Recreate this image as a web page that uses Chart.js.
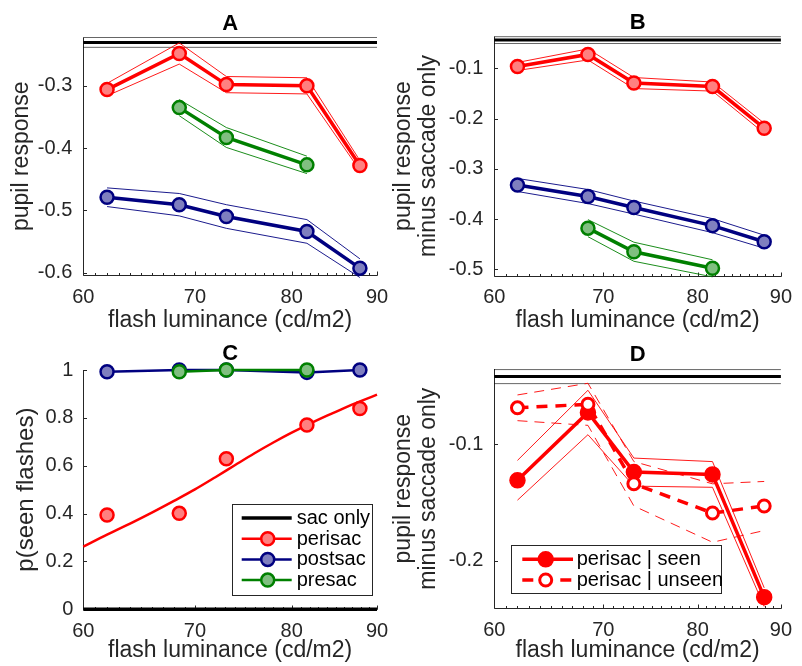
<!DOCTYPE html>
<html>
<head>
<meta charset="utf-8">
<script src="https://cdn.jsdelivr.net/npm/chart.js@4.4.1/dist/chart.umd.min.js"></script>
<style>
  html, body { margin: 0; padding: 0; background: #fff; }
  body { width: 802px; height: 666px; position: relative; overflow: hidden; }
  canvas { position: absolute; }
</style>
</head>
<body>
<canvas id="cA" width="401" height="333" style="left:0;top:0"></canvas>
<canvas id="cB" width="412" height="333" style="left:390px;top:0"></canvas>
<canvas id="cC" width="401" height="333" style="left:0;top:333px"></canvas>
<canvas id="cD" width="412" height="333" style="left:390px;top:333px"></canvas>
<script>
// ---------------- DATA ----------------
const lum = [62.0, 68.5, 73.1, 81.7, 87.9];          // flash luminance (cd/m2)
const lumPre = [68.5, 73.1, 81.7];
const xRange = [60, 90];
const xTicks = [60, 70, 80, 90];
const xMinorTicks = [61, 62, 63, 64, 65, 66, 67, 68, 69, 71, 72, 73, 74, 75, 76, 77, 78, 79, 81, 82, 83, 84, 85, 86, 87, 88, 89];
const xLabel = 'flash luminance (cd/m2)';

// Panel A : pupil response
const yTicksA = [-0.6, -0.5, -0.4, -0.3];
const sacOnlyA = -0.2302, sacOnlyA_se = 0.0079;
const periA = [-0.306, -0.248, -0.298, -0.300, -0.428];
const periA_se = [0.010, 0.017, 0.013, 0.013, 0.008];
const postA = [-0.479, -0.491, -0.510, -0.534, -0.593];
const postA_se = [0.015, 0.018, 0.019, 0.019, 0.015];
const preA = [-0.335, -0.383, -0.427];
const preA_se = [0.013, 0.016, 0.014];

// Panel B : pupil response minus saccade only
const yTicksB = [-0.5, -0.4, -0.3, -0.2, -0.1];
const sacOnlyB = -0.0435, sacOnlyB_se = 0.0068;
const periB = [-0.096, -0.072, -0.129, -0.136, -0.219];
const periB_se = [0.008, 0.011, 0.011, 0.009, 0.010];
const postB = [-0.332, -0.355, -0.377, -0.413, -0.445];
const postB_se = [0.013, 0.014, 0.013, 0.014, 0.013];
const preB = [-0.418, -0.465, -0.498];
const preB_se = [0.017, 0.019, 0.017];

// Panel C : p(seen flashes)
const yTicksC = [0, 0.2, 0.4, 0.6, 0.8, 1];
const sacOnlyC = 0;
const seenPeri = [0.394, 0.401, 0.629, 0.770, 0.839];
const seenPost = [0.993, 1.0, 1.0, 0.990, 1.0];
const seenPre = [0.993, 1.0, 1.0];
const fitLum = [60, 62, 64, 66, 68, 70, 72, 74, 76, 78, 80, 82, 84, 86, 88, 90];
const fitP = [0.262, 0.312, 0.358, 0.405, 0.453, 0.501, 0.552, 0.603, 0.652, 0.697, 0.738, 0.775, 0.809, 0.841, 0.870, 0.897];

// Panel D : perisac split by seen / unseen
const yTicksD = [-0.2, -0.1];
const sacOnlyD = -0.0423, sacOnlyD_se = 0.0060;
const seenD = [-0.131, -0.073, -0.124, -0.126, -0.231];
const seenD_se = [0.017, 0.019, 0.012, 0.011, 0.008];
const unseenD = [-0.069, -0.066, -0.134, -0.159, -0.153];
const unseenD_se = [0.011, 0.018, 0.019, 0.025, 0.021];

// ---------------- STYLE ----------------
const FONT = '"Liberation Sans", Arial, Helvetica, sans-serif';
const AX = '#262626';
const RED = {line: '#ff0000', fill: '#ff8080'};
const BLUE = {line: '#000080', fill: '#7f7fbf'};
const GREEN = {line: '#008000', fill: '#80bf80'};
const THIN_BLACK = 'rgba(0,0,0,0.6)';

// ---------------- HELPERS ----------------
function pts(xs, ys) { return xs.map((x, i) => ({x: x, y: ys[i]})); }
function offs(xs, ys, se, k) { return xs.map((x, i) => ({x: x, y: ys[i] + k * se[i]})); }
function hline(v) { return [{x: xRange[0], y: v}, {x: xRange[1], y: v}]; }

function mainDS(label, xs, ys, st, extra) {
  return Object.assign({
    label: label, data: pts(xs, ys), borderColor: st.line, borderWidth: 3.5,
    pointRadius: 6.5, pointHoverRadius: 6.5, pointBorderWidth: 2.5,
    pointBackgroundColor: st.fill, pointBorderColor: st.line,
    tension: 0, clip: false, fill: false
  }, extra || {});
}
function thinDS(data, color, width, dash, label) {
  return { label: label || '', data: data, borderColor: color, borderWidth: width,
    borderDash: dash || [], pointRadius: 0, pointHoverRadius: 0, tension: 0, clip: false, fill: false };
}
function sacOnlySet(v, se) {
  return [thinDS(hline(v + se), THIN_BLACK, 1), thinDS(hline(v - se), THIN_BLACK, 1), thinDS(hline(v), '#000', 3, [], 'sac only')];
}
function bandSet(xs, ys, se, color, dash) {
  return [thinDS(offs(xs, ys, se, 1), color, 0.9, dash), thinDS(offs(xs, ys, se, -1), color, 0.9, dash)];
}

// ---------------- PLUGINS ----------------
const axesPlugin = {
  id: 'matAxes',
  beforeDatasetsDraw(chart, args, opts) {
    const ctx = chart.ctx, a = chart.chartArea, x = chart.scales.x, y = chart.scales.y;
    const lx = Math.round(a.left) + 0.5, by = Math.round(a.bottom) + 0.5;
    ctx.save();
    ctx.strokeStyle = AX; ctx.lineWidth = 1; ctx.setLineDash([]);
    ctx.beginPath();
    ctx.moveTo(lx, a.top); ctx.lineTo(lx, by); ctx.lineTo(Math.round(a.right) + 0.5, by);
    y.ticks.forEach(t => { const py = Math.round(y.getPixelForValue(t.value)) + 0.5; ctx.moveTo(lx, py); ctx.lineTo(lx + 3.5, py); });
    x.ticks.forEach(t => { const px = Math.round(x.getPixelForValue(t.value)) + 0.5; ctx.moveTo(px, by); ctx.lineTo(px, by - 4); });
    xMinorTicks.forEach(v => { const px = Math.round(x.getPixelForValue(v)) + 0.5; ctx.moveTo(px, by); ctx.lineTo(px, by - 2.5); });
    ctx.stroke();
    ctx.restore();
  }
};

const legendPlugin = {
  id: 'matLegend',
  afterDatasetsDraw(chart, args, opts) {
    if (!opts || !opts.items) return;
    const ctx = chart.ctx, b = opts.box;
    ctx.save();
    ctx.fillStyle = '#fff';
    ctx.fillRect(b.x, b.y, b.w, b.h);
    ctx.strokeStyle = AX; ctx.lineWidth = 1;
    ctx.strokeRect(Math.round(b.x) + 0.5, Math.round(b.y) + 0.5, Math.round(b.w), Math.round(b.h));
    opts.items.forEach((dsIndex, i) => {
      const ds = chart.data.datasets[dsIndex];
      const cy = opts.rowY[i];
      ctx.strokeStyle = ds.borderColor; ctx.lineWidth = ds.borderWidth;
      ctx.setLineDash(ds.borderDash || []);
      ctx.beginPath(); ctx.moveTo(opts.lineX0, cy); ctx.lineTo(opts.lineX1, cy); ctx.stroke();
      ctx.setLineDash([]);
      if (ds.pointRadius > 0) {
        ctx.beginPath(); ctx.arc(opts.markX, cy, ds.pointRadius, 0, 2 * Math.PI);
        ctx.fillStyle = ds.pointBackgroundColor; ctx.fill();
        ctx.lineWidth = ds.pointBorderWidth; ctx.strokeStyle = ds.pointBorderColor; ctx.stroke();
      }
      ctx.fillStyle = '#000'; ctx.font = '20px ' + FONT;
      ctx.textAlign = 'left'; ctx.textBaseline = 'middle';
      ctx.fillText(ds.label, opts.textX, cy + 0.5);
    });
    ctx.restore();
  }
};

function fmt(v) { return String(v); }

function makeOptions(p) {
  return {
    responsive: false, animation: false, devicePixelRatio: 1,
    events: [],
    layout: { padding: { left: 0, right: p.padRight, top: 0, bottom: 0 } },
    plugins: {
      legend: { display: false },
      tooltip: { enabled: false },
      title: { display: true, text: p.title, fullSize: false, color: '#000',
        font: { family: FONT, size: 22, weight: 'bold', lineHeight: 1.2 },
        padding: { top: p.titleTop, bottom: p.titleBottom } },
      matAxes: {},
      matLegend: p.legend || {}
    },
    scales: {
      x: {
        type: 'logarithmic', min: xRange[0], max: xRange[1],
        grid: { display: false, drawTicks: false }, border: { display: false },
        afterBuildTicks: s => { s.ticks = xTicks.map(v => ({value: v})); },
        afterFit: s => { s.height = p.xAxisH; },
        ticks: { callback: v => String(v), color: AX, font: { family: FONT, size: 20, lineHeight: 1.2 },
          padding: 10, maxRotation: 0, minRotation: 0, autoSkip: false },
        title: { display: true, text: xLabel, color: AX, font: { family: FONT, size: 23, lineHeight: 1.2 },
          padding: { top: 0, bottom: p.xTitlePadB } }
      },
      y: {
        type: 'linear', min: p.ymin, max: p.ymax,
        grid: { display: false, drawTicks: false }, border: { display: false },
        afterBuildTicks: s => { s.ticks = p.yTicks.map(v => ({value: v})); },
        afterFit: s => { s.width = p.yAxisW; },
        ticks: { callback: v => fmt(v), color: AX, font: { family: FONT, size: 20, lineHeight: 1.2 },
          padding: p.yTickPad, autoSkip: false },
        title: { display: true, text: p.yLabel, color: AX,
          font: { family: FONT, size: p.yFont || 23, lineHeight: p.yLH },
          padding: { top: p.yTitlePadT, bottom: 0 } }
      }
    }
  };
}

function build(id, p, datasets) {
  datasets.forEach((d, i) => { d.order = datasets.length - i; });
  return new Chart(document.getElementById(id), {
    type: 'line', data: { datasets: datasets }, options: makeOptions(p),
    plugins: [axesPlugin, legendPlugin]
  });
}

// ---------------- PANEL A ----------------
build('cA', {
  title: 'A', titleTop: 10.4, titleBottom: 0.7, padRight: 24,
  ymin: -0.604, ymax: -0.2223, yTicks: yTicksA, yAxisW: 83.3, yTickPad: 11,
  yLabel: 'pupil response', yLH: 1.2, yTitlePadT: 8.2,
  xAxisH: 58, xTitlePadB: -1.2
}, [].concat(
  sacOnlySet(sacOnlyA, sacOnlyA_se),
  bandSet(lum, periA, periA_se, RED.line), [mainDS('perisac', lum, periA, RED)],
  bandSet(lum, postA, postA_se, BLUE.line), [mainDS('postsac', lum, postA, BLUE)],
  bandSet(lumPre, preA, preA_se, GREEN.line), [mainDS('presac', lumPre, preA, GREEN)]
));

// ---------------- PANEL B ----------------
build('cB', {
  title: 'B', titleTop: 10, titleBottom: 0.1, padRight: 12.7,
  ymin: -0.5127, ymax: -0.0363, yTicks: yTicksB, yAxisW: 104.3, yTickPad: 11,
  yLabel: ['pupil response', 'minus saccade only'], yLH: 25 / 23, yTitlePadT: 1,
  xAxisH: 57.3, xTitlePadB: -1.2
}, [].concat(
  sacOnlySet(sacOnlyB, sacOnlyB_se),
  bandSet(lum, periB, periB_se, RED.line), [mainDS('perisac', lum, periB, RED)],
  bandSet(lum, postB, postB_se, BLUE.line), [mainDS('postsac', lum, postB, BLUE)],
  bandSet(lumPre, preB, preB_se, GREEN.line), [mainDS('presac', lumPre, preB, GREEN)]
));

// ---------------- PANEL C ----------------
const dsC = [
  thinDS(hline(sacOnlyC), '#000', 3.5, [], 'sac only'),                              // 0
  thinDS(pts(fitLum, fitP), RED.line, 2.5),                                           // 1
  mainDS('perisac', lum, seenPeri, RED, { showLine: false, borderWidth: 2.5 }),       // 2
  mainDS('postsac', lum, seenPost, BLUE, { borderWidth: 2.5 }),                       // 3
  mainDS('presac', lumPre, seenPre, GREEN, { borderWidth: 2.5 })                      // 4
];
dsC[1].cubicInterpolationMode = 'monotone';
build('cC', {
  title: 'C', titleTop: 7.8, titleBottom: 2.8, padRight: 24,
  ymin: 0, ymax: 1, yTicks: yTicksC, yAxisW: 83.3, yTickPad: 10,
  yLabel: 'p(seen flashes)', yLH: 1.2, yTitlePadT: 12, yFont: 24,
  xAxisH: 56.7, xTitlePadB: 1.2,
  legend: { items: [0, 2, 3, 4], box: { x: 232.3, y: 171, w: 140.4, h: 91 },
    rowY: [185, 205.7, 226.4, 247.1], lineX0: 241.7, lineX1: 291.7, markX: 267.7, textX: 296.7 }
}, dsC);

// ---------------- PANEL D ----------------
const dsD = [].concat(
  sacOnlySet(sacOnlyD, sacOnlyD_se),                                                  // 0,1,2
  bandSet(lum, seenD, seenD_se, RED.line),                                            // 3,4
  [mainDS('perisac | seen', lum, seenD, RED, { pointRadius: 7.5, pointHoverRadius: 7.5, pointBorderWidth: 1.5, pointBackgroundColor: RED.line })], // 5
  bandSet(lum, unseenD, unseenD_se, RED.line, [10, 7]),                               // 6,7
  [mainDS('perisac | unseen', lum, unseenD, RED, { borderDash: [11, 8], pointRadius: 6, pointHoverRadius: 6, pointBorderWidth: 3, pointBackgroundColor: '#ffffff' })] // 8
);
build('cD', {
  title: 'D', titleTop: 9, titleBottom: 0.6, padRight: 12.7,
  ymin: -0.2405, ymax: -0.0358, yTicks: yTicksD, yAxisW: 104.3, yTickPad: 11,
  yLabel: ['pupil response', 'minus saccade only'], yLH: 25 / 23, yTitlePadT: 1,
  xAxisH: 57.7, xTitlePadB: 1.2,
  legend: { items: [5, 8], box: { x: 121.3, y: 212, w: 210.4, h: 48.3 },
    rowY: [226.3, 247], lineX0: 132.3, lineX1: 183, markX: 155.7, textX: 186.7 }
}, dsD);
</script>
</body>
</html>
